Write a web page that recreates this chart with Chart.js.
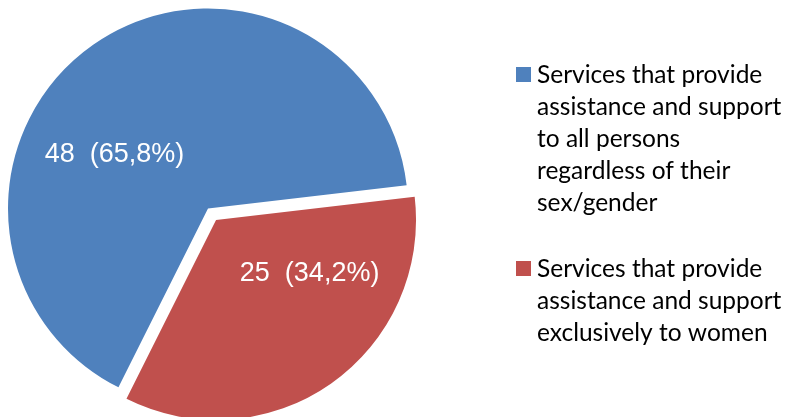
<!DOCTYPE html>
<html>
<head>
<meta charset="utf-8">
<script src="https://cdn.jsdelivr.net/npm/chart.js@4.4.1/dist/chart.umd.min.js"></script>
<style>
  html, body { margin: 0; padding: 0; background: #ffffff; }
  #wrap { position: relative; width: 790px; height: 417px; }
</style>
</head>
<body>
<div id="wrap"><canvas id="chart" width="790" height="417"></canvas></div>
<script>
// Service categories, each split into the lines shown in the legend
const categories = [
  ['Services that provide', 'assistance and support', 'to all persons', 'regardless of their', 'sex/gender'],
  ['Services that provide', 'assistance and support', 'exclusively to women']
];
const counts = [48, 25];
const percentLabels = ['65,8%', '34,2%'];
const sliceColors = ['#4F81BD', '#C0504D'];
// How far (px) each slice is pulled out from the centre
const explode = [0, 14];

// Move exploded slices outward along their bisector
const explodeSlices = {
  id: 'explodeSlices',
  afterUpdate(chart) {
    const meta = chart.getDatasetMeta(0);
    meta.data.forEach((arc, i) => {
      const mid = (arc.startAngle + arc.endAngle) / 2;
      arc.x += Math.cos(mid) * explode[i];
      arc.y += Math.sin(mid) * explode[i];
    });
  }
};

// White "count  (percent)" text inside each slice
const sliceLabels = {
  id: 'sliceLabels',
  afterDatasetsDraw(chart) {
    const ctx = chart.ctx;
    const meta = chart.getDatasetMeta(0);
    ctx.save();
    ctx.fillStyle = '#ffffff';
    ctx.font = '27px "Liberation Sans", Arial, sans-serif';
    ctx.textAlign = 'center';
    ctx.textBaseline = 'middle';
    meta.data.forEach((arc, i) => {
      const mid = (arc.startAngle + arc.endAngle) / 2;
      const a = mid - 25 * Math.PI / 180;
      const r = arc.outerRadius * 0.54;
      ctx.fillText(counts[i] + '  (' + percentLabels[i] + ')', arc.x + Math.cos(a) * r, arc.y + Math.sin(a) * r);
    });
    ctx.restore();
  }
};

// Legend on the right with multi-line entries
const sideLegend = {
  id: 'sideLegend',
  afterDraw(chart) {
    const ctx = chart.ctx;
    const boxX = 516, box = 15, textX = 537, lineH = 32, itemGap = 34;
    let baseline = 83;
    ctx.save();
    ctx.font = '24.5px Lato, "Noto Sans", sans-serif';
    ctx.textAlign = 'left';
    ctx.textBaseline = 'alphabetic';
    chart.data.labels.forEach((lines, i) => {
      ctx.fillStyle = chart.data.datasets[0].backgroundColor[i];
      ctx.fillRect(boxX, baseline - 16, box, box);
      ctx.fillStyle = '#000000';
      lines.forEach((line, j) => ctx.fillText(line, textX, baseline + j * lineH));
      baseline += lines.length * lineH + itemGap;
    });
    ctx.restore();
  }
};

new Chart(document.getElementById('chart'), {
  type: 'pie',
  data: {
    labels: categories,
    datasets: [{
      data: counts,
      backgroundColor: sliceColors,
      borderWidth: 0,
      hoverOffset: 0
    }]
  },
  options: {
    responsive: false,
    animation: false,
    events: [],
    rotation: 206.6,
    radius: 200,
    layout: { padding: { left: 0, top: 0, bottom: 0, right: 374 } },
    plugins: {
      legend: { display: false },
      tooltip: { enabled: false }
    }
  },
  plugins: [explodeSlices, sliceLabels, sideLegend]
});
</script>
</body>
</html>
